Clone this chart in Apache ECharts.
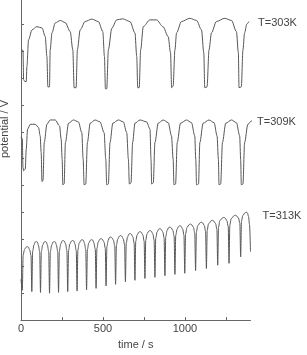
<!DOCTYPE html>
<html>
<head>
<meta charset="utf-8">
<script src="https://cdn.jsdelivr.net/npm/echarts@6/dist/echarts.min.js"></script>
<style>
html, body { margin: 0; padding: 0; background: #fff; }
#main { width: 307px; height: 355px; }
</style>
</head>
<body>
<div id="main"></div>
<script>
// potential traces (time in s, potential in arbitrary offset units)
var t303 = [0,12,16,23,32,36,46,67,97,128,148,158,164,174,178,189,209,240,270,300,316,324,336,344,361,391,432,472,499,509,515,523,533,554,584,620,665,695,706,712,721,730,746,786,827,866,898,912,919,928,939,949,979,1030,1071,1101,1115,1121,1135,1147,1162,1192,1243,1284,1314,1326,1330,1344,1354,1364,1378,1391];
var v303 = [10.05,10.03,8.94,8.87,8.87,9.42,10.42,10.79,10.91,10.86,10.54,9.80,8.67,8.67,10.05,10.68,11.05,11.14,11.06,10.73,10.05,8.64,8.64,10.05,10.79,11.10,11.19,11.10,10.73,9.80,8.60,8.60,10.05,10.85,11.16,11.20,11.10,10.68,9.80,8.64,8.64,10.05,10.91,11.16,11.16,10.91,10.54,9.94,8.64,8.70,10.05,10.68,11.10,11.22,11.14,10.79,9.94,8.64,8.67,10.05,10.68,11.10,11.22,11.14,10.73,9.94,8.64,8.67,10.05,10.68,11.01,11.10];

var t309 = [0,8,12,16,26,32,40,57,87,107,117,123,128,134,142,158,178,209,235,245,251,255,263,271,290,320,350,371,379,385,395,405,422,452,482,507,517,523,533,543,560,594,624,645,655,661,671,681,695,726,766,787,793,797,807,817,837,867,898,918,928,933,943,953,973,1010,1040,1060,1066,1071,1083,1091,1111,1147,1178,1196,1204,1208,1218,1229,1249,1284,1314,1334,1340,1344,1354,1364,1384,1405,1425,1445];
var v309 = [6.79,6.75,5.68,5.55,5.62,6.36,7.10,7.28,7.28,7.16,6.85,6.23,5.15,5.18,6.60,7.28,7.44,7.44,7.22,6.73,5.99,5.03,5.06,6.60,7.32,7.44,7.37,6.97,5.99,5.03,5.06,6.60,7.32,7.44,7.37,6.97,5.99,5.03,5.06,6.60,7.32,7.44,7.37,6.97,5.99,5.06,5.10,6.60,7.32,7.44,7.37,7.10,5.99,5.06,5.10,6.60,7.32,7.44,7.34,6.85,5.99,5.03,5.06,6.60,7.32,7.44,7.34,6.85,5.99,5.03,5.06,6.60,7.32,7.44,7.34,6.85,5.99,5.03,5.06,6.60,7.32,7.44,7.34,6.85,5.99,5.03,5.06,6.60,7.28,7.40,7.40,7.40];

var t313 = [0,8,13,21,31,38,45,53,61,66,
    71,79,86,93,100,106,114,119, 124,132,141,148,155,161,169,174,
    179,187,196,203,210,216,224,229, 234,242,250,257,264,272,280,285,
    290,298,308,315,322,329,337,342, 347,355,366,373,380,387,395,400,
    405,413,424,431,438,445,453,458, 463,471,481,488,495,506,514,519,
    524,532,539,546,553,564,572,577, 582,590,600,607,614,624,632,637,
    642,650,658,665,672,682,690,695, 700,708,719,726,733,743,751,756,
    761,769,780,787,794,804,812,817, 822,830,840,847,854,865,873,878,
    883,891,901,908,915,926,934,939, 944,952,962,969,976,986,994,999,
    1004,1012,1026,1033,1040,1052,1060,1065, 1070,1078,1093,1100,1107,1118,1126,1131,
    1136,1144,1160,1167,1174,1187,1195,1200, 1205,1213,1230,1237,1244,1256,1264,1269,
    1274,1282,1300,1307,1314,1327,1335,1340, 1345,1353,1367,1374,1381,1388,1394,1400];
var v313 = [1.52,1.11,2.41,2.62,2.71,2.73,2.71,2.61,2.40,1.06,
    2.55,2.79,2.90,2.92,2.90,2.79,2.54,1.03, 2.54,2.79,2.90,2.92,2.90,2.79,2.54,1.00,
    2.54,2.79,2.90,2.92,2.90,2.79,2.54,1.03, 2.57,2.82,2.94,2.96,2.94,2.83,2.58,1.06,
    2.58,2.83,2.94,2.96,2.94,2.83,2.58,1.08, 2.61,2.86,2.97,2.99,2.97,2.86,2.62,1.12,
    2.62,2.86,2.97,2.99,2.97,2.86,2.63,1.18, 2.66,2.90,3.01,3.03,3.01,2.91,2.68,1.27,
    2.73,2.96,3.07,3.09,3.07,2.97,2.74,1.33, 2.78,3.01,3.12,3.14,3.12,3.02,2.80,1.42,
    2.86,3.09,3.20,3.22,3.20,3.10,2.87,1.48, 2.93,3.16,3.27,3.29,3.27,3.17,2.94,1.55,
    2.97,3.21,3.31,3.33,3.31,3.21,2.98,1.59, 3.04,3.27,3.38,3.40,3.38,3.28,3.05,1.65,
    3.10,3.33,3.44,3.46,3.44,3.34,3.11,1.70, 3.15,3.38,3.49,3.51,3.49,3.39,3.16,1.74,
    3.20,3.44,3.55,3.57,3.55,3.45,3.22,1.84, 3.28,3.51,3.62,3.64,3.62,3.52,3.30,1.92,
    3.35,3.58,3.69,3.71,3.69,3.59,3.38,2.04, 3.46,3.70,3.80,3.82,3.80,3.70,3.48,2.11,
    3.54,3.77,3.88,3.90,3.88,3.79,3.59,2.35, 3.68,3.89,3.99,4.01,3.99,3.85,3.55,2.54];

var xLabels = [0, 500, 1000];
var xTicks = [0, 250, 500, 750, 1000, 1250];
var yTicks = [0, 1, 2, 3, 4, 5, 6, 7, 8, 9, 10, 11];

function zip(t, v) {
    var out = [];
    for (var i = 0; i < t.length; i++) out.push([t[i], v[i]]);
    return out;
}

var font = 'Liberation Sans, Arial, sans-serif';
var lineCol = '#555';
var textCol = '#444';

function trace(name, t, v, lbl) {
    return {
        name: name,
        type: 'line',
        data: zip(t, v),
        showSymbol: false,
        clip: false,
        smooth: 0.3,
        smoothMonotone: 'x',
        lineStyle: { color: lineCol, width: 1 },
        endLabel: {
            show: true,
            formatter: name,
            color: textCol,
            fontSize: 11,
            fontFamily: font,
            distance: lbl.d,
            offset: lbl.o
        }
    };
}

var myChart = echarts.init(document.getElementById('main'));
myChart.setOption({
    animation: false,
    grid: { left: 21, width: 229.5, top: 0, bottom: 33 },
    xAxis: {
        type: 'value',
        min: 0,
        max: 1400,
        interval: 250,
        name: 'time / s',
        nameLocation: 'middle',
        nameGap: 18,
        nameTextStyle: { color: textCol, fontSize: 11, fontFamily: font },
        axisLine: { lineStyle: { color: '#666', width: 1 } },
        axisTick: { inside: true, length: 3, customValues: xTicks, lineStyle: { color: '#666' } },
        axisLabel: {
            customValues: xLabels,
            margin: 3,
            color: textCol,
            fontSize: 11,
            fontFamily: font,
            formatter: function (v) { return v % 500 === 0 ? v : ''; }
        },
        splitLine: { show: false }
    },
    yAxis: {
        type: 'value',
        min: 0,
        max: 11.9,
        interval: 1,
        axisLine: { show: true, lineStyle: { color: '#666', width: 1 } },
        axisTick: { show: true, inside: true, length: 3, customValues: yTicks, lineStyle: { color: '#666' } },
        axisLabel: { show: false },
        splitLine: { show: false }
    },
    graphic: [{
        type: 'text',
        x: 5,
        y: 129,
        rotation: Math.PI / 2,
        style: {
            text: 'potential / V',
            fill: textCol,
            fontSize: 11,
            fontFamily: font,
            align: 'center',
            verticalAlign: 'middle'
        }
    }],
    series: [
        trace('T=303K', t303, v303, { d: 9, o: [0, 1] }),
        trace('T=309K', t309, v309, { d: 5, o: [0, 1] }),
        trace('T=313K', t313, v313, { d: 12, o: [0, -36] })
    ]
});
</script>
</body>
</html>
